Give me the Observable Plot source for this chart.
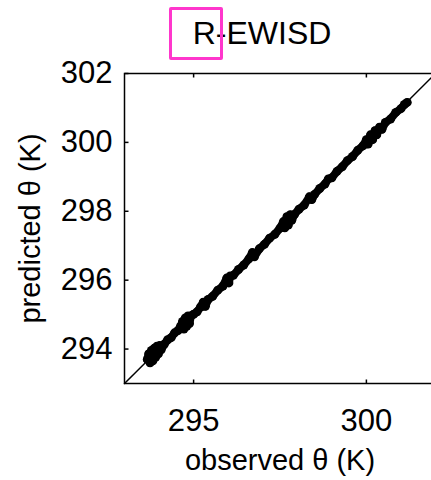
<!DOCTYPE html>
<html>
<head>
<meta charset="utf-8">
<script src="https://cdn.jsdelivr.net/npm/d3@7"></script>
<script src="https://cdn.jsdelivr.net/npm/@observablehq/plot@0.6"></script>
<style>
  html, body { margin: 0; padding: 0; background: white; }
  #wrap { position: relative; width: 431px; height: 480px; overflow: hidden; background: white; }
  #hl { position: absolute; left: 169px; top: 7px; width: 48px; height: 47px; border: 3px solid #ff36cc; border-radius: 2px; }
</style>
</head>
<body>
<div id="wrap"><div id="hl"></div></div>
<script>
const title = "R-EWISD";
const xLabel = "observed θ (K)";
const yLabel = "predicted θ (K)";
const xTicks = [295, 300];
const yTicks = [294, 296, 298, 300, 302];
const axisRange = [293, 302];

const observed = [
  293.66, 293.70, 293.74, 293.78, 293.82, 293.86, 293.90, 293.94, 293.98, 294.02, 294.06,
  294.15, 294.25, 294.35, 294.45, 294.55, 294.62,
  294.68, 294.72, 294.76, 294.80, 294.84, 294.88, 294.92,
  295.00, 295.10, 295.20, 295.28, 295.34, 295.42, 295.55, 295.70, 295.85,
  295.96, 296.02, 296.06, 296.15, 296.30, 296.45, 296.60, 296.70, 296.76, 296.90, 297.05, 297.20, 297.35, 297.50,
  297.60, 297.64, 297.70, 297.74, 297.80, 297.84,
  297.92, 298.05, 298.20, 298.35, 298.42, 298.50, 298.65, 298.80, 298.90, 299.00, 299.15, 299.30, 299.45, 299.60, 299.75, 299.90,
  300.00, 300.05, 300.12, 300.18, 300.25, 300.30, 300.38, 300.45, 300.55, 300.70, 300.85, 301.00, 301.10, 301.18
];
const predicted = [
  293.70, 293.86, 293.60, 293.96, 293.66, 294.02, 293.76, 294.08, 293.86, 294.10, 293.98,
  294.14, 294.27, 294.33, 294.47, 294.54, 294.66,
  294.80, 294.58, 294.90, 294.66, 294.96, 294.74, 294.96,
  295.01, 295.08, 295.22, 295.36, 295.24, 295.44, 295.53, 295.71, 295.83,
  296.06, 295.92, 296.12, 296.14, 296.31, 296.44, 296.62, 296.80, 296.68, 296.91, 297.04, 297.22, 297.33, 297.51,
  297.70, 297.52, 297.84, 297.60, 297.90, 297.74,
  297.91, 298.06, 298.18, 298.42, 298.34, 298.49, 298.66, 298.79, 298.94, 298.97, 299.16, 299.29, 299.47, 299.59, 299.77, 299.90,
  300.08, 299.95, 300.22, 300.08, 300.34, 300.22, 300.44, 300.38, 300.58, 300.68, 300.87, 300.98, 301.10, 301.16
];

const points = observed.map((o, i) => ({observed: o, predicted: predicted[i]}));
const oneToOne = axisRange.map(v => ({observed: v, predicted: v}));

const tickUp = {draw(c) { c.moveTo(0, 0); c.lineTo(0, -4); }};
const tickDown = {draw(c) { c.moveTo(0, 0); c.lineTo(0, 4); }};
const tickRight = {draw(c) { c.moveTo(0, 0); c.lineTo(4, 0); }};

const font = "'Liberation Sans', Arial, Helvetica, sans-serif";

const chart = Plot.plot({
  width: 435,
  height: 480,
  marginLeft: 124,
  marginRight: 0,
  marginTop: 73,
  marginBottom: 97,
  style: {fontFamily: font, background: "white", maxWidth: "none", color: "black"},
  x: {domain: axisRange},
  y: {domain: axisRange},
  marks: [
    Plot.line(oneToOne, {x: "observed", y: "predicted", stroke: "black", strokeWidth: 1.5}),
    Plot.line(points, {x: "observed", y: "predicted", stroke: "black", strokeWidth: 8, strokeLinecap: "round", strokeLinejoin: "round"}),
    Plot.dot(points, {x: "observed", y: "predicted", r: 4.5, fill: "black", stroke: "none"}),
    Plot.frame({stroke: "black", strokeWidth: 1.5}),
    Plot.dot(xTicks, {x: d => d, y: axisRange[0], symbol: tickUp, stroke: "black", fill: "none", strokeWidth: 1.5}),
    Plot.dot(xTicks, {x: d => d, y: axisRange[1], symbol: tickDown, stroke: "black", fill: "none", strokeWidth: 1.5}),
    Plot.dot(yTicks, {x: axisRange[0], y: d => d, symbol: tickRight, stroke: "black", fill: "none", strokeWidth: 1.5}),
    Plot.axisX(xTicks, {tickSize: 0, tickPadding: 25, fontSize: 31, label: null}),
    Plot.axisY(yTicks, {tickSize: 0, tickPadding: 12, fontSize: 31, label: null}),
    Plot.text([xLabel], {frameAnchor: "bottom", textAnchor: "middle", lineAnchor: "middle", dy: 77, fontSize: 29, fill: "black"}),
    Plot.text([yLabel], {frameAnchor: "left", textAnchor: "middle", lineAnchor: "middle", dx: -94, rotate: -90, fontSize: 29, fill: "black"}),
    Plot.text([title], {frameAnchor: "top", textAnchor: "middle", lineAnchor: "top", dx: -18, dy: -52, fontSize: 32, fill: "black"})
  ]
});
document.getElementById("wrap").prepend(chart);
</script>
</body>
</html>
